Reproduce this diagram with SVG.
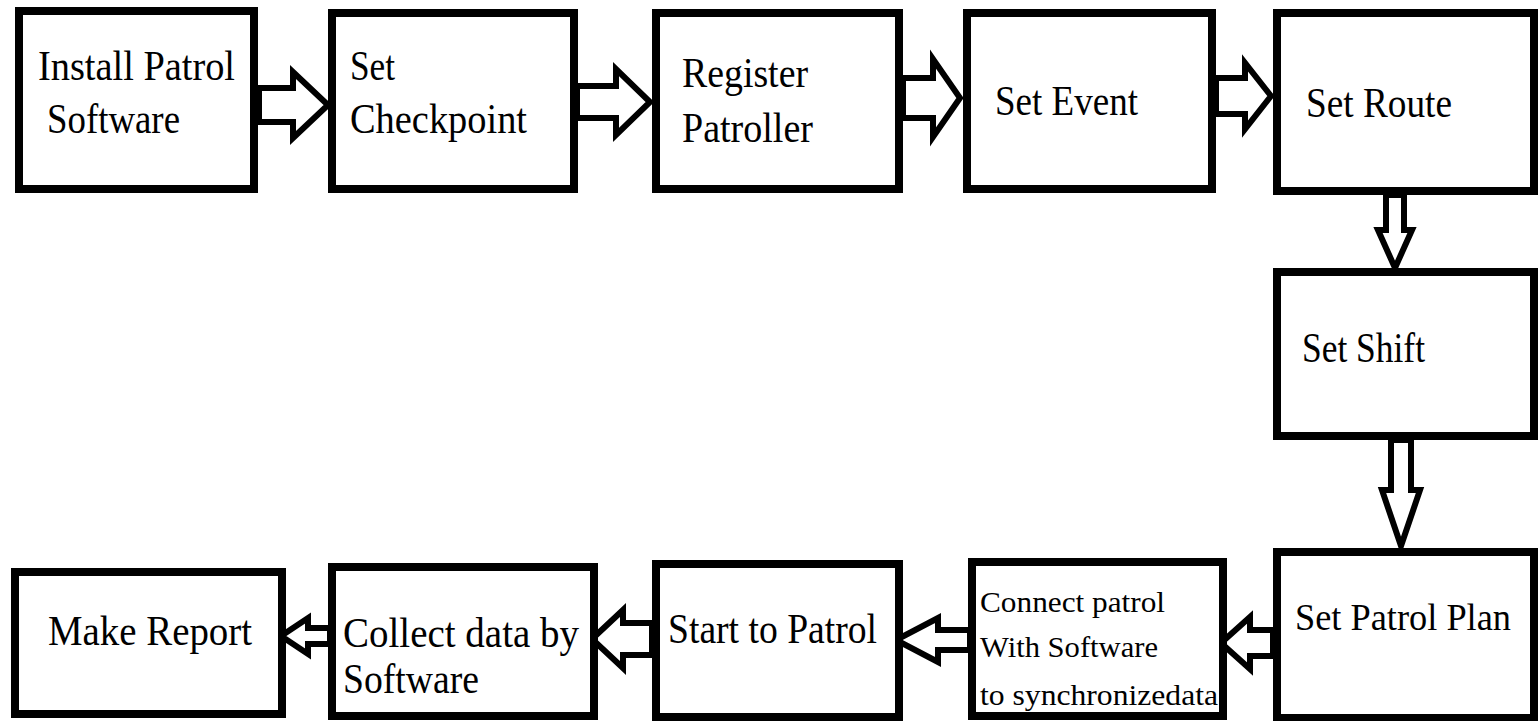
<svg xmlns="http://www.w3.org/2000/svg" width="1538" height="721" viewBox="0 0 1538 721">
<style>
.box{fill:#fff;stroke:#000;stroke-width:8}
.arr{fill:#fff;stroke:#000;stroke-width:6;stroke-linejoin:miter;stroke-miterlimit:10}
.t{font-family:"Liberation Serif","Times New Roman",serif;font-size:42px;fill:#000}
.s{font-family:"Liberation Serif","Times New Roman",serif;font-size:29px;fill:#000}
</style>
<rect width="1538" height="721" fill="#fff"/>
<g id="connectors">
<polygon class="arr" points="259,88 293,88 293,72 328,105 293,138 293,122 259,122"/>
<polygon class="arr" points="577,86 616,86 616,69 650,102 616,135 616,118 577,118"/>
<polygon class="arr" points="903,78 933,78 933,59 960,98 933,137 933,118 903,118"/>
<polygon class="arr" points="1216,78 1245,78 1245,63 1271,96 1245,129 1245,114 1216,114"/>
<polygon class="arr" points="1386,195 1386,230 1378,230 1395,268 1412,230 1404,230 1404,195"/>
<polygon class="arr" points="1391,440 1391,490 1382,490 1401,546 1420,490 1411,490 1411,440"/>
<polygon class="arr" points="1273,630 1250,630 1250,617 1221,643 1250,669 1250,656 1273,656"/>
<polygon class="arr" points="970,630 938,630 938,618 896,640 938,662 938,650 970,650"/>
<polygon class="arr" points="652,623 623,623 623,610 592,639 623,668 623,655 652,655"/>
<polygon class="arr" points="330,628 308,628 308,618 281,636 308,654 308,644 330,644"/>
</g>
<g id="n1"><rect class="box" x="19" y="11" width="235" height="178"/>
<text class="t" x="38" y="80" textLength="197" lengthAdjust="spacingAndGlyphs">Install Patrol</text>
<text class="t" x="47" y="133" textLength="133" lengthAdjust="spacingAndGlyphs">Software</text></g>
<g id="n2"><rect class="box" x="332" y="13" width="242" height="176"/>
<text class="t" x="350" y="80" textLength="45" lengthAdjust="spacingAndGlyphs">Set</text>
<text class="t" x="350" y="133" textLength="177" lengthAdjust="spacingAndGlyphs">Checkpoint</text></g>
<g id="n3"><rect class="box" x="656" y="13" width="243" height="176"/>
<text class="t" x="682" y="87" textLength="126" lengthAdjust="spacingAndGlyphs">Register</text>
<text class="t" x="682" y="142" textLength="131" lengthAdjust="spacingAndGlyphs">Patroller</text></g>
<g id="n4"><rect class="box" x="967" y="13" width="245" height="176"/>
<text class="t" x="995" y="115" textLength="143" lengthAdjust="spacingAndGlyphs">Set Event</text></g>
<g id="n5"><rect class="box" x="1277" y="13" width="257" height="178"/>
<text class="t" x="1306" y="117" textLength="146" lengthAdjust="spacingAndGlyphs">Set Route</text></g>
<g id="n6"><rect class="box" x="1277" y="272" width="257" height="164"/>
<text class="t" x="1302" y="362" textLength="123" lengthAdjust="spacingAndGlyphs">Set Shift</text></g>
<g id="n7"><rect class="box" x="1277" y="552" width="257" height="166"/>
<text class="t" x="1295" y="630" style="font-size:38px" textLength="216" lengthAdjust="spacingAndGlyphs">Set Patrol Plan</text></g>
<g id="n8"><rect class="box" x="972" y="562" width="251" height="154"/>
<text class="s" x="980" y="612" textLength="185" lengthAdjust="spacingAndGlyphs">Connect patrol</text>
<text class="s" x="980" y="657" textLength="178" lengthAdjust="spacingAndGlyphs">With Software</text>
<text class="s" x="980" y="705" textLength="238" lengthAdjust="spacingAndGlyphs">to synchronizedata</text></g>
<g id="n9"><rect class="box" x="656" y="564" width="243" height="153"/>
<text class="t" x="668" y="643" textLength="209" lengthAdjust="spacingAndGlyphs">Start to Patrol</text></g>
<g id="n10"><rect class="box" x="332" y="567" width="262" height="149"/>
<text class="t" x="343" y="647" textLength="236" lengthAdjust="spacingAndGlyphs">Collect data by</text>
<text class="t" x="343" y="693" textLength="136" lengthAdjust="spacingAndGlyphs">Software</text></g>
<g id="n11"><rect class="box" x="15" y="572" width="267" height="142"/>
<text class="t" x="48" y="645" textLength="204" lengthAdjust="spacingAndGlyphs">Make Report</text></g>
</svg>
